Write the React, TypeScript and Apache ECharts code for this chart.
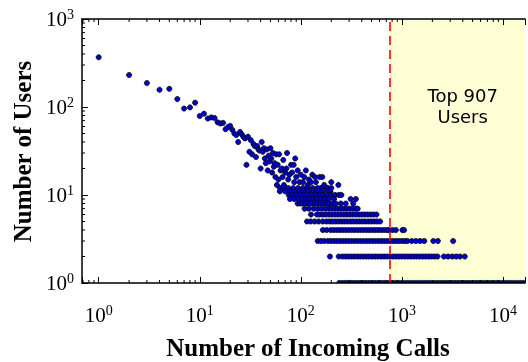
import React, { useEffect, useRef } from 'react';
import * as echarts from 'echarts';

// ---- data ----
const headCalls = [1, 2, 3, 4, 5, 6, 7, 8, 9, 10, 11, 12, 13, 14, 15, 16, 17, 18, 19, 20, 21, 22, 23, 24, 25, 26, 27, 28, 29, 30, 31, 32, 33, 34, 35, 36, 37, 38, 39, 40,
  41, 42, 43, 44, 45, 46, 47, 48, 49, 50, 51, 52, 53, 54, 55, 56, 57, 58, 59, 60, 61, 62, 63, 65, 66, 67, 68, 70, 72, 73, 75, 77, 80, 82, 85, 86, 88, 90, 93, 97,
  100, 105, 108, 112, 117, 120, 126, 130, 138, 141, 153, 158, 163, 170, 184, 200, 235];
const headUsers = [367, 231, 187, 157, 161, 123, 96, 99, 112, 79, 84, 74, 76, 75, 67, 65, 66, 56, 59, 61, 55, 50, 48, 40, 52, 49, 46, 44, 22, 46, 31, 42, 29, 38, 36, 27, 36, 33, 32, 20,
  40, 31, 34, 26, 23, 33, 19, 28, 24, 34, 26, 18, 30, 21, 23, 16, 29, 13, 22, 15, 29, 12, 19, 20, 16, 25, 13, 18, 20, 30, 15, 17, 22, 18, 22, 14, 26, 16, 19, 14,
  17, 14, 16, 19, 13, 15, 14, 17, 16, 14, 16, 12, 16, 13, 12, 14, 13];

const rowUsers = [12, 11, 10, 9, 8, 7, 6, 5, 4, 3, 2, 1];
const rowCalls = [
  [67, 75, 84, 94, 105, 117, 131, 146, 163, 182, 200],
  [62, 70, 78, 86, 96, 107, 119, 132, 147, 163, 185, 196],
  [76, 83, 91, 99, 108, 118, 129, 141, 154, 168, 183, 200, 218, 238, 252],
  [78, 86, 95, 103, 112, 122, 133, 145, 158, 172, 188, 213, 311, 350],
  [93, 99, 105, 112, 120, 128, 137, 147, 157, 168, 180, 193, 206, 221, 248, 278, 330],
  [109, 120, 134, 147, 161, 176, 189, 203, 217, 232, 248, 265, 284, 304, 325, 348, 365],
  [126, 144, 154, 165, 176, 189, 202, 216, 231, 247, 265, 283, 303, 324, 347, 371, 397, 425, 455, 487, 521, 560],
  [115, 125, 137, 150, 165, 180, 193, 206, 221, 236, 253, 270, 289, 310, 331, 355, 379, 406, 434, 465, 497, 532, 569, 609],
  [165, 180, 197, 211, 226, 242, 259, 277, 296, 317, 339, 363, 388, 415, 444, 475, 508, 544, 582, 623, 667, 714, 740, 806, 870, 1011, 1050],
  [147, 158, 170, 185, 198, 212, 227, 243, 260, 278, 297, 318, 340, 364, 390, 417, 446, 477, 511, 546, 585, 626, 669, 716, 766, 820, 877, 939, 1005, 1075, 1133, 1248, 1371, 1510, 1663, 2044, 2266, 3212],
  [194, 237, 258, 276, 295, 316, 338, 362, 387, 414, 443, 474, 507, 543, 581, 622, 665, 712, 762, 815, 872, 933, 998, 1068, 1143, 1223, 1309, 1400, 1498, 1603, 1715, 1835, 1964, 2101, 2248, 2600, 2860, 3150, 3450, 3760, 4180],
  [240, 257, 275, 294, 315, 337, 360, 385, 412, 441, 472, 505, 540, 578, 618, 662, 708, 757, 810, 867, 928, 993, 1062, 1137, 1216, 1301, 1392, 1490, 1594, 1706, 1825, 1953, 2090, 2236, 2392, 2560, 2739, 2931, 3136, 3355, 3590, 3841, 4110, 4398, 4706, 5035, 5388, 5765, 6168, 6600, 7062, 7556, 8085, 8651, 9257, 9905, 10598, 11340, 12134, 12983, 13892, 14864, 15905],
];

const thresholdCalls = 750;
const X_MIN = 0.684;
const X_MAX = 16500;
const Y_MIN = 1;
const Y_MAX = 1000;
const xMinorTicks = [0.7, 0.8, 0.9, 2, 3, 4, 5, 6, 7, 8, 9, 20, 30, 40, 50, 60, 70, 80, 90, 200, 300, 400, 500, 600, 700, 800, 900, 2000, 3000, 4000, 5000, 6000, 7000, 8000, 9000];
const yMinorTicks = [2, 3, 4, 5, 6, 7, 8, 9, 20, 30, 40, 50, 60, 70, 80, 90, 200, 300, 400, 500, 600, 700, 800, 900];

const SERIF = '"Liberation Serif", "Times New Roman", serif';

const powLabel = (v: number) => {
  const e = Math.log10(v);
  const r = Math.round(e);
  if (Math.abs(e - r) > 1e-6) return '';
  return `{b|10}{s|${r}}`;
};

const labelRich = {
  b: { fontFamily: SERIF, fontSize: 21, lineHeight: 24, color: '#000' },
  s: { fontFamily: SERIF, fontSize: 14, lineHeight: 18, verticalAlign: 'top', color: '#000' },
};

export default function App() {
  const ref = useRef<HTMLDivElement>(null);
  useEffect(() => {
    const chart = echarts.init(ref.current!, null, { renderer: 'svg' });
    const points: number[][] = headCalls.map((c, i) => [c, headUsers[i]]);
    rowUsers.forEach((u, i) => rowCalls[i].forEach((c) => points.push([c, u])));

    const axisLine = { show: true, onZero: false, lineStyle: { color: '#000', width: 1.5 } };
    const axisTick = { show: true, inside: true, length: 6, lineStyle: { color: '#000', width: 1 } };

    const option: any = {
      animation: false,
      grid: { left: 82, right: 0, top: 19, bottom: 79, containLabel: false },
      xAxis: [
        {
          type: 'log', min: X_MIN, max: X_MAX, position: 'bottom', z: 10,
          axisLine, axisTick,
          axisLabel: { formatter: powLabel, rich: labelRich, margin: 20, showMinLabel: true, showMaxLabel: true },
          splitLine: { show: false },
        },
        {
          type: 'log', min: X_MIN, max: X_MAX, position: 'top', z: 10,
          axisLine, axisTick,
          axisLabel: { show: false },
          splitLine: { show: false },
        },
      ],
      yAxis: [
        {
          type: 'log', min: Y_MIN, max: Y_MAX, position: 'left', z: 10,
          axisLine, axisTick,
          axisLabel: { formatter: powLabel, rich: labelRich, margin: 8 },
          splitLine: { show: false },
        },
      ],
      series: [
        {
          type: 'custom',
          name: 'users',
          coordinateSystem: 'cartesian2d',
          xAxisIndex: 0, yAxisIndex: 0,
          clip: true,
          z: 2,
          data: points,
          encode: { x: 0, y: 1 },
          renderItem: (params: any, api: any) => {
            const p = api.coord([api.value(0), api.value(1)]);
            return {
              type: 'circle',
              shape: { cx: p[0], cy: p[1], r: 2.6 },
              style: { fill: '#0000c8', stroke: '#000', lineWidth: 0.7 },
            };
          },
        },
        {
          type: 'scatter',
          xAxisIndex: 0, yAxisIndex: 0,
          data: [],
          z: 4,
          markArea: {
            silent: true,
            itemStyle: { color: 'rgba(255,255,0,0.16)' },
            data: [[{ xAxis: thresholdCalls, yAxis: Y_MIN }, { xAxis: X_MAX, yAxis: Y_MAX }]],
          },
          markLine: {
            silent: true,
            symbol: 'none',
            label: { show: false },
            lineStyle: { color: '#ff0000', type: [9, 5], width: 1.6 },
            data: [{ xAxis: thresholdCalls }],
          },
        },
        {
          type: 'custom',
          coordinateSystem: 'cartesian2d',
          xAxisIndex: 0, yAxisIndex: 0,
          clip: false,
          z: 12,
          silent: true,
          data: xMinorTicks.map((v) => [v, 1]),
          renderItem: (params: any, api: any) => {
            const x = api.coord([api.value(0), 1])[0];
            const cs = params.coordSys;
            const b = cs.y + cs.height;
            return {
              type: 'group',
              children: [
                { type: 'line', shape: { x1: x, y1: b, x2: x, y2: b - 3 }, style: { stroke: '#000', lineWidth: 1 } },
                { type: 'line', shape: { x1: x, y1: cs.y, x2: x, y2: cs.y + 3 }, style: { stroke: '#000', lineWidth: 1 } },
              ],
            };
          },
        },
        {
          type: 'custom',
          coordinateSystem: 'cartesian2d',
          xAxisIndex: 0, yAxisIndex: 0,
          clip: false,
          z: 12,
          silent: true,
          data: yMinorTicks.map((v) => [1, v]),
          renderItem: (params: any, api: any) => {
            const y = api.coord([1, api.value(1)])[1];
            const cs = params.coordSys;
            return {
              type: 'line',
              shape: { x1: cs.x, y1: y, x2: cs.x + 3, y2: y },
              style: { stroke: '#000', lineWidth: 1 },
            };
          },
        },
      ],
      graphic: [
        {
          type: 'text', x: 308, y: 347, z: 20,
          style: { text: 'Number of Incoming Calls', font: `bold 25px ${SERIF}`, fill: '#000', align: 'center', verticalAlign: 'middle' },
        },
        {
          type: 'text', x: 22.5, y: 151.5, rotation: Math.PI / 2, z: 20,
          style: { text: 'Number of Users', font: `bold 25px ${SERIF}`, fill: '#000', align: 'center', verticalAlign: 'middle' },
        },
        {
          type: 'text', x: 462.7, y: 95.3, z: 20,
          style: { text: 'Top 907', font: '18px "DejaVu Sans"', fill: '#000', align: 'center', verticalAlign: 'middle' },
        },
        {
          type: 'text', x: 462.7, y: 116.3, z: 20,
          style: { text: 'Users', font: '18px "DejaVu Sans"', fill: '#000', align: 'center', verticalAlign: 'middle' },
        },
      ],
    };
    chart.setOption(option);
    return () => chart.dispose();
  }, []);
  return <div ref={ref} style={{ position: 'fixed', left: 0, top: 0, width: 528, height: 362 }} />;
}
